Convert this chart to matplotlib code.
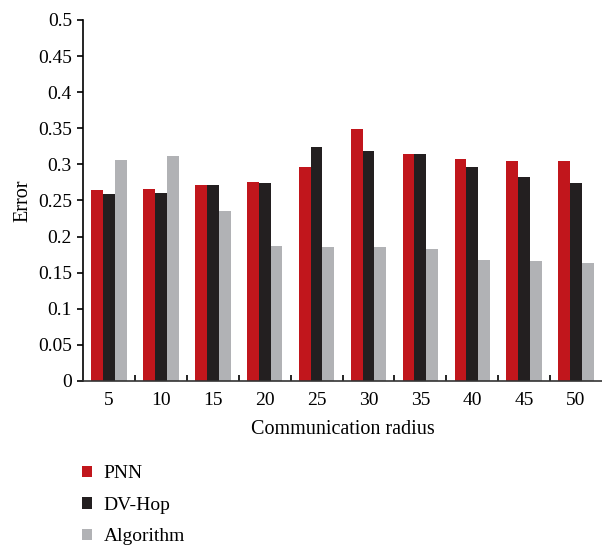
import numpy as np
import matplotlib.pyplot as plt

radius = ['5', '10', '15', '20', '25', '30', '35', '40', '45', '50']
pnn = [0.265, 0.266, 0.271, 0.275, 0.296, 0.349, 0.315, 0.307, 0.305, 0.305]
dvhop = [0.259, 0.261, 0.271, 0.274, 0.324, 0.318, 0.315, 0.296, 0.282, 0.274]
algorithm = [0.306, 0.312, 0.235, 0.187, 0.186, 0.185, 0.183, 0.168, 0.166, 0.163]

plt.rcParams['font.family'] = ['Liberation Serif', 'DejaVu Serif']

fig = plt.figure(figsize=(6.02, 5.46), dpi=100)
ax = fig.add_axes([0.1379, 0.3022, 0.8621, 0.6612])

x = np.arange(len(radius))
w = 0.228
ax.bar(x - w, pnn, w, color='#c1161c', label='PNN')
ax.bar(x, dvhop, w, color='#231f20', label='DV-Hop')
ax.bar(x + w, algorithm, w, color='#b1b2b5', label='Algorithm')

ax.set_xlim(-0.5, len(radius) - 0.5)
ax.set_ylim(0, 0.5)
ax.set_yticks(np.arange(0, 0.51, 0.05))
ax.set_yticklabels(['0', '0.05', '0.1', '0.15', '0.2', '0.25', '0.3', '0.35', '0.4', '0.45', '0.5'])
ax.set_xticks(x)
ax.set_xticklabels(radius)
ax.set_xticks(np.arange(0.5, len(radius) - 1, 1), minor=True)
ax.tick_params(axis='x', which='major', length=0, pad=8, labelsize=14)
ax.tick_params(axis='x', which='minor', direction='in', length=4, width=1.2)
ax.tick_params(axis='y', direction='out', length=4, width=1.2, labelsize=14, pad=4)

for s in ['top', 'right']:
    ax.spines[s].set_visible(False)
ax.spines['left'].set_linewidth(1.2)
ax.spines['bottom'].set_linewidth(1.2)
ax.spines['bottom'].set_color('#333333')

ax.set_ylabel('Error', fontsize=14.5, labelpad=4)
ax.set_xlabel('Communication radius', fontsize=14.5, labelpad=8)

fig.legend(loc='upper left', bbox_to_anchor=(0.124, 0.162), frameon=False,
           handlelength=0.5, handleheight=0.5, handletextpad=0.6,
           labelspacing=0.75, fontsize=14, borderaxespad=0)

fig.savefig('out.png', dpi=100)
